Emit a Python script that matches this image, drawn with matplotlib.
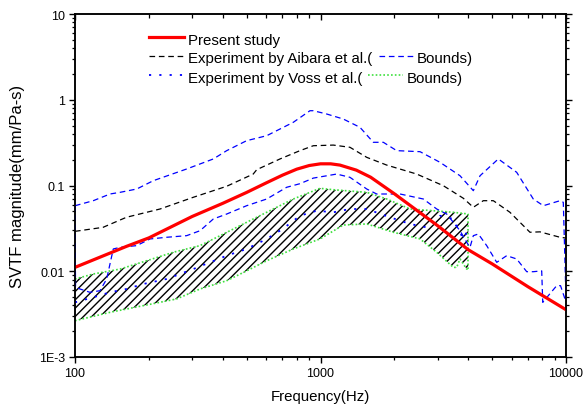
import matplotlib
matplotlib.use("Agg")
import matplotlib.pyplot as plt
from matplotlib.lines import Line2D

plt.rcParams['font.family'] = ['Liberation Sans', 'DejaVu Sans']

# ---------------- data ----------------
present_f = [100, 162, 200, 300, 400, 500, 600, 700, 800, 900, 1000, 1100, 1200, 1400, 1600, 2000,
             3000, 4000, 5000, 7000, 10000]
present_v = [0.0111, 0.0195, 0.0245, 0.0435, 0.062, 0.083, 0.107, 0.132, 0.155, 0.171, 0.179, 0.179,
             0.173, 0.151, 0.125, 0.080, 0.034, 0.0178, 0.0122, 0.0066, 0.00356]

aib_f = [100, 130, 162, 222, 303, 415, 532, 550, 684, 825, 935, 1128, 1318, 1543, 1861, 2465,
         3164, 3817, 4193, 4604, 5058, 5911, 7130, 7834, 9454, 10000]
aib_v = [0.0292, 0.0325, 0.0426, 0.0532, 0.0728, 0.098, 0.136, 0.153, 0.204, 0.255, 0.291, 0.296,
         0.279, 0.213, 0.173, 0.136, 0.0995, 0.071, 0.0557, 0.0665, 0.0665, 0.0487, 0.0285, 0.0288,
         0.0249, 0.0244]

aib_up_f = [100, 118.7, 138.9, 152.5, 178.4, 208.4, 285, 366, 415, 500, 604, 775, 906, 935, 1060,
            1238, 1448, 1641, 1803, 2043, 2543, 3067, 3700, 4193, 4466, 5300, 6297, 7357, 8085,
            9454, 9750, 10000]
aib_up_v = [0.0581, 0.0665, 0.0796, 0.0832, 0.091, 0.1138, 0.1558, 0.204, 0.255, 0.333, 0.381,
            0.546, 0.745, 0.745, 0.682, 0.596, 0.477, 0.319, 0.319, 0.255, 0.248, 0.1864, 0.130,
            0.087, 0.130, 0.204, 0.1425, 0.0696, 0.0581, 0.0665, 0.0637, 0.00474]

aib_lo_f = [100, 100.5, 104.8, 115, 126.4, 134.6, 143.2, 152.5, 178.4, 202, 236.3, 285, 323, 366,
            415, 500, 604, 728, 825, 935, 1164, 1318, 1543, 1694, 2108, 2623, 2975, 3266, 3700,
            3940, 4064, 4193, 4394, 4753, 5222, 5735, 6297, 6918, 7357, 7962, 8040, 8470, 9165,
            9500, 9906]
aib_lo_v = [0.0581, 0.0065, 0.00621, 0.00568, 0.00593, 0.00812, 0.0182, 0.019, 0.0199, 0.0238,
            0.0249, 0.026, 0.0297, 0.0407, 0.0465, 0.0581, 0.0696, 0.0953, 0.105, 0.122, 0.136,
            0.1246, 0.091, 0.0796, 0.0796, 0.0696, 0.0532, 0.0465, 0.0297, 0.0218, 0.019, 0.026,
            0.0272, 0.0199, 0.0127, 0.0152, 0.0139, 0.00988, 0.00988, 0.0101, 0.00434, 0.00519,
            0.00679, 0.00679, 0.00474]

voss_f = [100, 118.7, 138.9, 162, 189.7, 236, 303, 415, 500, 604, 700, 825, 965, 1128, 1318, 1543,
          1919, 2316, 2707, 3067, 3475, 3817, 3940]
voss_v = [0.00434, 0.00497, 0.00568, 0.00621, 0.0071, 0.00812, 0.0106, 0.0152, 0.0182, 0.0238,
          0.031, 0.0444, 0.0508, 0.0487, 0.0532, 0.0532, 0.0426, 0.0356, 0.0325, 0.0444, 0.0407,
          0.0238, 0.0285]

voss_up_f = [100, 118.7, 152.5, 196, 251, 323, 390, 500, 642, 775, 995, 1128, 1543, 1861, 2316,
             2882, 3475, 4000]
voss_up_v = [0.00812, 0.00929, 0.0106, 0.01327, 0.01663, 0.0199, 0.026, 0.0372, 0.0532, 0.0696,
             0.0927, 0.0893, 0.0832, 0.0696, 0.0532, 0.0508, 0.0487, 0.0465]

voss_lo_f = [100, 138.9, 189.7, 259, 323, 415, 500, 604, 775, 995, 1238, 1543, 1981, 2543, 2975,
             3475, 3586, 3700, 3940, 4000]
voss_lo_v = [0.00265, 0.00332, 0.00397, 0.00475, 0.00621, 0.00776, 0.0101, 0.01327, 0.0182, 0.0238,
             0.0346, 0.0356, 0.0285, 0.0238, 0.01663, 0.0111, 0.0111, 0.0139, 0.0106, 0.0106]

x_ticks = [100, 1000, 10000]
x_labels = ["100", "1000", "10000"]
y_ticks = [0.001, 0.01, 0.1, 1, 10]
y_labels = ["1E-3", "0.01", "0.1", "1", "10"]

# ---------------- styles ----------------
RED = '#ff0000'
BLUE = '#0000ff'
GREEN = '#3ee03e'
dash_style = (0, (4.5, 3))
dot_blue = (0, (1.2, 4.5))
dot_green = (0, (1, 1.3))

W, H = 583, 406
fig = plt.figure(figsize=(W / 100, H / 100), dpi=100)
ax = fig.add_axes([75 / W, 1 - 358 / H, (566 - 75) / W, (358 - 15) / H])
ax.set_xscale('log')
ax.set_yscale('log')

# hatched Voss region
poly_f = voss_up_f + voss_lo_f[::-1]
poly_v = voss_up_v + voss_lo_v[::-1]
ax.fill(poly_f, poly_v, facecolor='none', edgecolor='black', hatch='////', linewidth=0, zorder=1)
ax.plot(voss_up_f, voss_up_v, color=GREEN, lw=1.2, ls=dot_green, zorder=2)
ax.plot(voss_lo_f, voss_lo_v, color=GREEN, lw=1.2, ls=dot_green, zorder=2)
ax.plot([voss_lo_f[-1], voss_up_f[-1]], [voss_lo_v[-1], voss_up_v[-1]], color=GREEN, lw=1.2,
        ls=dot_green, zorder=2)

ax.plot(voss_f, voss_v, color=BLUE, lw=1.3, ls=dot_blue, zorder=3)
ax.plot(aib_up_f, aib_up_v, color=BLUE, lw=0.9, ls=dash_style, zorder=3)
ax.plot(aib_lo_f, aib_lo_v, color=BLUE, lw=0.9, ls=dash_style, zorder=3)
ax.plot(aib_f, aib_v, color='black', lw=0.9, ls=dash_style, zorder=3)
ax.plot(present_f, present_v, color=RED, lw=2.3, zorder=4)

ax.set_xlim(100, 10000)
ax.set_ylim(0.001, 10)
ax.set_xticks(x_ticks, x_labels)
ax.set_yticks(y_ticks, y_labels)

for s in ax.spines.values():
    s.set_linewidth(1.1)

ax.tick_params(axis='both', which='major', direction='out', length=4.3, width=1.0,
               labelsize=9, pad=3)
ax.tick_params(axis='both', which='minor', direction='out', length=2.0, width=0.9)
ax.tick_params(axis='y', which='both', right=True)
ax.tick_params(axis='x', which='both', top=False)

# top axis ticks pointing inward
axt = ax.twiny()
axt.set_xscale('log')
axt.set_xlim(ax.get_xlim())
axt.set_xticks(x_ticks)
axt.tick_params(axis='x', which='major', direction='in', length=4.3, width=1.0, labeltop=False)
axt.tick_params(axis='x', which='minor', direction='in', length=2.8, width=0.9)
for s in axt.spines.values():
    s.set_linewidth(1.1)

ax.set_xlabel("Frequency(Hz)", fontsize=10.8, labelpad=7)
ax.set_ylabel("SVTF magnitude(mm/Pa-s)", fontsize=12, labelpad=10)

# ---------------- legend (drawn manually) ----------------
def fx(px):
    return px / W


def fy(py):
    return 1 - py / H


def leg_line(x0, x1, y, **kw):
    fig.add_artist(Line2D([fx(x0), fx(x1)], [fy(y), fy(y)], transform=fig.transFigure, **kw))


def leg_text(x, y, s):
    fig.text(fx(x), fy(y), s, fontsize=10.8, ha='left', va='center_baseline')


leg_line(149, 184, 38, color=RED, lw=2.3)
leg_text(188, 39, "Present study")
leg_line(149, 184, 57, color='black', lw=0.9, ls=dash_style)
leg_text(188, 58, "Experiment by Aibara et al.(")
leg_line(379, 413, 57, color=BLUE, lw=0.9, ls=dash_style)
leg_text(417, 58, "Bounds)")
leg_line(149, 184, 76, color=BLUE, lw=1.3, ls=dot_blue)
leg_text(188, 77, "Experiment by Voss et al.(")
leg_line(368, 403, 76, color=GREEN, lw=1.2, ls=dot_green)
leg_text(407, 77, "Bounds)")

fig.savefig("out.png", dpi=100)
